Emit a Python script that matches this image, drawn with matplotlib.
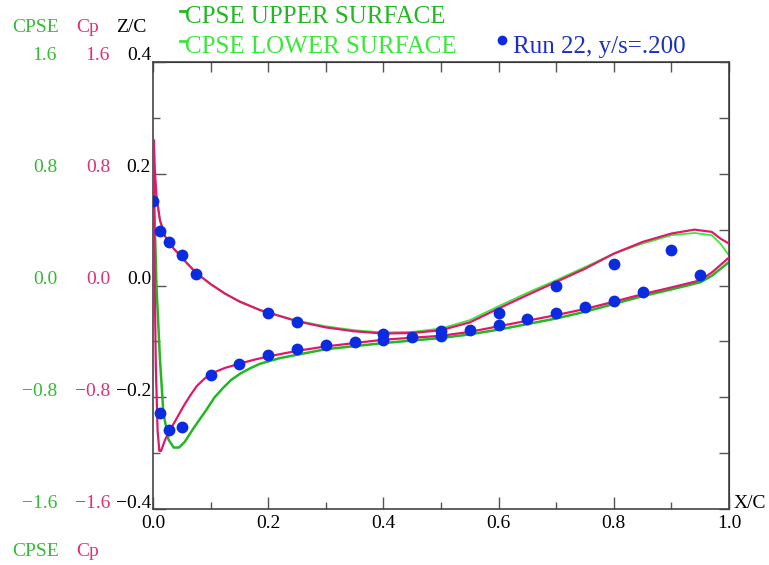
import matplotlib
matplotlib.use("Agg")

import matplotlib.pyplot as plt
import matplotlib.transforms as mtransforms
from matplotlib.lines import Line2D

plt.rcParams["font.family"] = ["Liberation Serif", "DejaVu Serif"]

W, H = 769, 565

MAGENTA = "#e0186c"
GREEN_UP = "#22b822"
GREEN_LO = "#3ae83a"
GREEN_TXT = "#33bb33"
PINK_TXT = "#e0307a"
BLUE = "#0b2be0"

# ── Data (all values in Cp units, Z/C = Cp / 4) ──

# theory Cp, lower surface (stagnation side)
cp_lo_x = [0.0015, 0.003, 0.006, 0.012, 0.021, 0.03, 0.04, 0.05, 0.06, 0.075, 0.1, 0.125,
           0.15, 0.186, 0.25, 0.3, 0.35, 0.4, 0.45, 0.5, 0.55, 0.6, 0.65, 0.7, 0.75, 0.8,
           0.85, 0.9, 0.94, 0.97, 0.985, 1.0]
cp_lo_y = [1.036, 0.84, 0.64, 0.468, 0.352, 0.292, 0.246, 0.2, 0.155, 0.09, 0.01, -0.058,
           -0.114, -0.176, -0.256, -0.30, -0.328, -0.344, -0.34, -0.32, -0.264, -0.164,
           -0.068, 0.026, 0.12, 0.228, 0.312, 0.372, 0.40, 0.384, 0.336, 0.30]

# theory Cp, upper surface (suction side)
cp_up_x = [0.0015, 0.002, 0.003, 0.005, 0.008, 0.011, 0.014, 0.021, 0.03, 0.04, 0.053,
           0.065, 0.076, 0.088, 0.1, 0.125, 0.15, 0.175, 0.2, 0.25, 0.3, 0.4, 0.5, 0.55,
           0.6, 0.65, 0.7, 0.75, 0.8, 0.85, 0.9, 0.951, 0.971, 1.0]
cp_up_y = [1.036, 0.4, 0.0, -0.6, -1.04, -1.184, -1.184, -1.104, -1.03, -0.96, -0.864,
           -0.785, -0.72, -0.672, -0.632, -0.59, -0.56, -0.532, -0.508, -0.468, -0.436,
           -0.388, -0.36, -0.332, -0.292, -0.252, -0.212, -0.168, -0.116, -0.062, -0.014,
           0.038, 0.096, 0.20]

# CPSE upper surface
cpse_up_x = [0.0, 0.002, 0.006, 0.012, 0.018, 0.027, 0.036, 0.045, 0.055, 0.07, 0.093,
             0.107, 0.122, 0.136, 0.151, 0.17, 0.186, 0.22, 0.25, 0.3, 0.4, 0.5, 0.55, 0.6,
             0.65, 0.7, 0.75, 0.8, 0.85, 0.9, 0.951, 0.971, 1.0]
cpse_up_y = [1.016, 0.6, 0.0, -0.52, -0.912, -1.104, -1.16, -1.16, -1.12, -1.024, -0.888,
             -0.80, -0.732, -0.675, -0.632, -0.59, -0.56, -0.52, -0.496, -0.456, -0.412,
             -0.376, -0.35, -0.316, -0.276, -0.236, -0.188, -0.132, -0.076, -0.028, 0.024,
             0.072, 0.168]

# CPSE lower surface
cpse_lo_x = [0.0, 0.003, 0.006, 0.012, 0.021, 0.03, 0.04, 0.05, 0.06, 0.075, 0.1, 0.125,
             0.15, 0.186, 0.25, 0.3, 0.35, 0.4, 0.45, 0.5, 0.55, 0.6, 0.65, 0.7, 0.75, 0.8,
             0.85, 0.9, 0.94, 0.97, 0.985, 1.0]
cpse_lo_y = [1.016, 0.80, 0.628, 0.468, 0.352, 0.292, 0.246, 0.2, 0.155, 0.09, 0.01, -0.058,
             -0.116, -0.178, -0.252, -0.292, -0.32, -0.336, -0.332, -0.308, -0.248, -0.148,
             -0.052, 0.038, 0.132, 0.228, 0.30, 0.36, 0.376, 0.36, 0.30, 0.216]

# Run 22 measurements
run_x = [0.0, 0.0125, 0.028, 0.05, 0.075, 0.2, 0.25, 0.4, 0.5, 0.6, 0.7, 0.8, 0.9,
         0.0125, 0.028, 0.05, 0.1, 0.15, 0.2, 0.25, 0.3, 0.35, 0.4, 0.45, 0.5, 0.55,
         0.6, 0.65, 0.7, 0.75, 0.8, 0.85, 0.95]
run_y = [0.604, 0.39, 0.308, 0.216, 0.079, -0.2, -0.264, -0.348, -0.324, -0.196, 0.0,
         0.156, 0.256,
         -0.916, -1.032, -1.01, -0.64, -0.56, -0.5, -0.456, -0.428, -0.404, -0.388,
         -0.368, -0.36, -0.316, -0.28, -0.24, -0.196, -0.156, -0.108, -0.048, 0.072]

y_ticks = [1.6, 0.8, 0.0, -0.8, -1.6]
cpse_labels = ["1.6", "0.8", "0.0", "\u22120.8", "\u22121.6"]
cp_labels = ["1.6", "0.8", "0.0", "\u22120.8", "\u22121.6"]
zc_labels = ["0.4", "0.2", "0.0", "\u22120.2", "\u22120.4"]
x_ticks = [0.0, 0.2, 0.4, 0.6, 0.8, 1.0]

FS = 14      # axis text
FS_LEG = 18  # legend text


def px(x, y):
    return x / W, 1 - y / H


fig = plt.figure(figsize=(W / 100, H / 100), dpi=100)
ax = fig.add_axes([153 / W, 1 - 509 / H, 576 / W, 447 / H])

ax.plot(cpse_lo_x, cpse_lo_y, color=GREEN_LO, lw=1.3, zorder=2)
ax.plot(cpse_up_x, cpse_up_y, color=GREEN_UP, lw=1.8, zorder=2)
ax.plot(cp_lo_x, cp_lo_y, color=MAGENTA, lw=1.6, zorder=3)
ax.plot(cp_up_x, cp_up_y, color=MAGENTA, lw=1.6, zorder=3)
ax.plot(run_x, run_y, "o", color=BLUE, ms=8.5, mec="none", zorder=4)

ax.set_xlim(0, 1)
ax.set_ylim(-1.6, 1.6)

ax.set_xticks(x_ticks)
ax.set_xticks([0.1, 0.3, 0.5, 0.7, 0.9], minor=True)
ax.set_xticklabels([f"{v:.1f}" for v in x_ticks], fontsize=FS)
ax.set_yticks(y_ticks)
ax.set_yticks([1.2, 0.4, -0.4, -1.2], minor=True)
ax.set_yticklabels([])
ax.tick_params(which="major", direction="in", length=9, width=1, color="#555555", pad=4)
ax.tick_params(which="minor", direction="in", length=5, width=1, color="#555555")
for s in ax.spines.values():
    s.set_color("#444444")
    s.set_linewidth(1.2)

# top / right axes: evenly spaced inward ticks, no labels
top = ax.secondary_xaxis("top")
top.set_xticks([i / 10 for i in range(11)])
top.tick_params(direction="in", length=7, width=1, color="#555555", labeltop=False)
right = ax.secondary_yaxis("right")
right.set_yticks([1.6 - 0.4 * i for i in range(9)])
right.tick_params(direction="in", length=7, width=1, color="#555555", labelright=False)

# three stacked y-label columns, slightly raised above their ticks
trans = mtransforms.blended_transform_factory(fig.transFigure, ax.transData)
trans = trans + mtransforms.ScaledTranslation(0, 6 / 100, fig.dpi_scale_trans)
for y, a, b, c in zip(y_ticks, cpse_labels, cp_labels, zc_labels):
    ax.text(57 / W, y, a, color=GREEN_TXT, fontsize=FS, ha="right", va="center", transform=trans)
    ax.text(110 / W, y, b, color=PINK_TXT, fontsize=FS, ha="right", va="center", transform=trans)
    ax.text(151 / W, y, c, color="black", fontsize=FS, ha="right", va="center", transform=trans)

fig.text(*px(36, 27), "CPSE", color=GREEN_TXT, fontsize=FS, ha="center", va="center")
fig.text(*px(88, 27), "Cp", color=PINK_TXT, fontsize=FS, ha="center", va="center")
fig.text(*px(131, 27), "Z/C", color="black", fontsize=FS, ha="center", va="center")
fig.text(*px(36, 552), "CPSE", color=GREEN_TXT, fontsize=FS, ha="center", va="center")
fig.text(*px(88, 552), "Cp", color=PINK_TXT, fontsize=FS, ha="center", va="center")
fig.text(*px(734, 503), "X/C", color="black", fontsize=FS, ha="left", va="center")

# legend
fig.add_artist(Line2D([180 / W, 186 / W], [1 - 11 / H, 1 - 11 / H], color=GREEN_UP, lw=2))
fig.text(*px(185, 17), "CPSE UPPER SURFACE", color=GREEN_UP, fontsize=FS_LEG, ha="left", va="center")
fig.add_artist(Line2D([180 / W, 186 / W], [1 - 41 / H, 1 - 41 / H], color=GREEN_LO, lw=2))
fig.text(*px(185, 47), "CPSE LOWER SURFACE", color=GREEN_LO, fontsize=FS_LEG, ha="left", va="center")
fig.add_artist(Line2D([502 / W], [1 - 40 / H], marker="o", color=BLUE, ms=7, mec="none"))
fig.text(*px(513, 47), "Run 22, y/s=.200", color="#1a30c0", fontsize=FS_LEG, ha="left", va="center")

fig.savefig("out.png", dpi=100)
